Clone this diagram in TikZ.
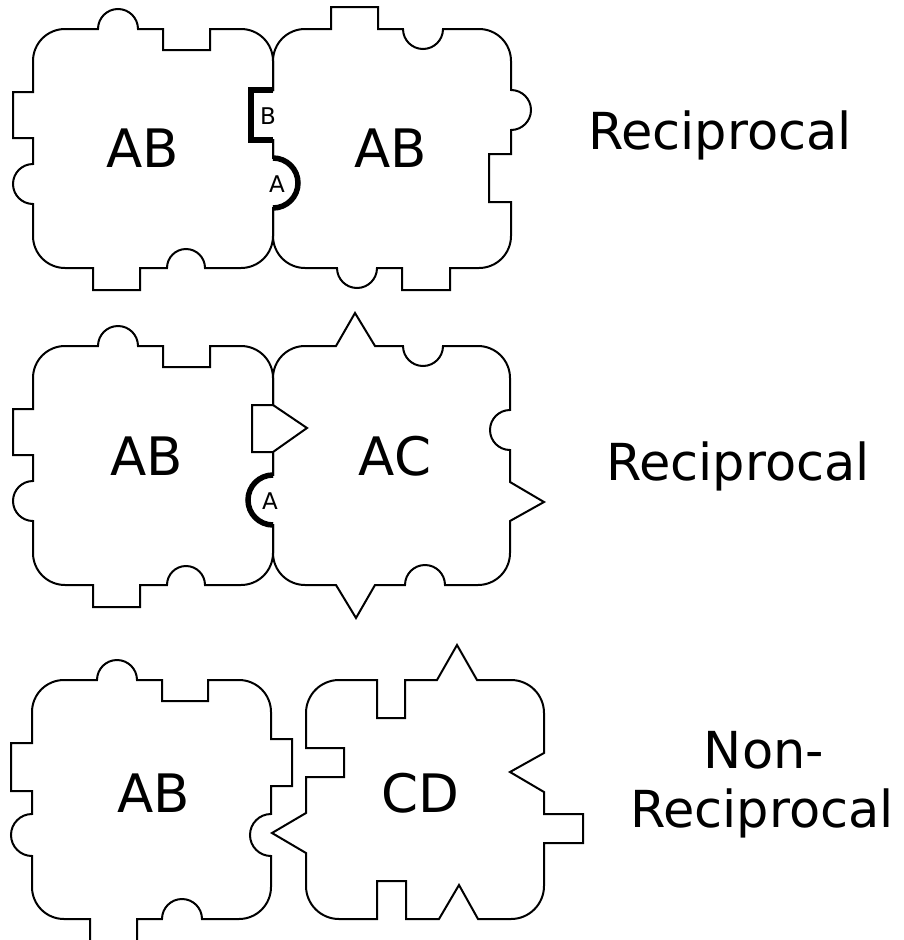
\documentclass[tikz,border=0pt]{standalone}
\usepackage{fontspec}
\setmainfont{DejaVu Sans}
\begin{document}
\begin{tikzpicture}[x=1pt,y=-1pt,
  tile/.style={draw=black,line width=2pt,line join=miter},
  boldline/.style={draw=black,line width=5.5pt},
  biglabel/.style={font=\fontsize{53}{60}\selectfont,inner sep=0pt,anchor=base},
  smalllabel/.style={font=\fontsize{23}{26}\selectfont,inner sep=0pt,anchor=base},
  sidelabel/.style={font=\fontsize{51}{58}\selectfont,inner sep=0pt,anchor=base}]
\clip (0,0) rectangle (903,940);
\fill[white] (0,0) rectangle (903,940);

% ---------- Row 1 ----------
% Tile 1 (AB)
\draw[tile] (33,61) arc[start angle=180,end angle=90,radius=32pt]
  -- (98,29) arc[start angle=180,end angle=0,radius=20pt]
  -- (163,29) -- (163,50) -- (210,50) -- (210,29)
  -- (241,29) arc[start angle=90,end angle=0,radius=32pt]
  -- (273,90) -- (251,90) -- (251,140) -- (273,140)
  -- (273,158) arc[start angle=90,end angle=-90,radius=25pt]
  -- (273,236) arc[start angle=0,end angle=-90,radius=32pt]
  -- (205,268) arc[start angle=0,end angle=180,radius=19pt]
  -- (140,268) -- (140,290) -- (93,290) -- (93,268)
  -- (65,268) arc[start angle=270,end angle=180,radius=32pt]
  -- (33,204) arc[start angle=270,end angle=90,radius=20pt]
  -- (33,138) -- (13,138) -- (13,92) -- (33,92) -- cycle;
% Tile 2 (AB)
\draw[tile] (273,61) arc[start angle=180,end angle=90,radius=32pt]
  -- (331,29) -- (331,7) -- (378,7) -- (378,29)
  -- (403,29) arc[start angle=180,end angle=360,radius=20pt]
  -- (479,29) arc[start angle=90,end angle=0,radius=32pt]
  -- (511,90) arc[start angle=90,end angle=-90,radius=20pt]
  -- (511,154) -- (489,154) -- (489,202) -- (511,202)
  -- (511,236) arc[start angle=0,end angle=-90,radius=32pt]
  -- (450,268) -- (450,290) -- (402,290) -- (402,268)
  -- (377,268) arc[start angle=0,end angle=-180,radius=20pt]
  -- (305,268) arc[start angle=270,end angle=180,radius=32pt]
  -- (273,208) arc[start angle=-90,end angle=90,radius=25pt]
  -- (273,140) -- (251,140) -- (251,90) -- (273,90) -- cycle;
\draw[boldline] (273,90) -- (251,90) -- (251,140) -- (273,140);
\draw[boldline] (273,158) arc[start angle=90,end angle=-90,radius=25pt];

% ---------- Row 2 ----------
% Tile 3 (AB)
\draw[tile] (33,378) arc[start angle=180,end angle=90,radius=32pt]
  -- (98,346) arc[start angle=180,end angle=0,radius=20pt]
  -- (163,346) -- (163,367) -- (210,367) -- (210,346)
  -- (241,346) arc[start angle=90,end angle=0,radius=32pt]
  -- (273,405) -- (252,405) -- (252,452) -- (273,452)
  -- (273,475) arc[start angle=90,end angle=270,radius=25pt]
  -- (273,553) arc[start angle=0,end angle=-90,radius=32pt]
  -- (205,585) arc[start angle=0,end angle=180,radius=19pt]
  -- (140,585) -- (140,607) -- (93,607) -- (93,585)
  -- (65,585) arc[start angle=270,end angle=180,radius=32pt]
  -- (33,521) arc[start angle=270,end angle=90,radius=20pt]
  -- (33,455) -- (13,455) -- (13,409) -- (33,409) -- cycle;
% Tile 4 (AC)
\draw[tile] (273,378) arc[start angle=180,end angle=90,radius=32pt]
  -- (336,346) -- (355,313) -- (375,346)
  -- (403,346) arc[start angle=180,end angle=360,radius=20pt]
  -- (478,346) arc[start angle=90,end angle=0,radius=32pt]
  -- (510,410) arc[start angle=90,end angle=270,radius=20pt]
  -- (510,482) -- (544,502) -- (510,521)
  -- (510,553) arc[start angle=0,end angle=-90,radius=32pt]
  -- (445,585) arc[start angle=0,end angle=180,radius=20pt]
  -- (375,585) -- (356,618) -- (336,585)
  -- (305,585) arc[start angle=270,end angle=180,radius=32pt]
  -- (273,525) arc[start angle=270,end angle=90,radius=25pt]
  -- (273,452) -- (307,428) -- (273,405) -- cycle;
\draw[boldline] (273,475) arc[start angle=90,end angle=270,radius=25pt];

% ---------- Row 3 ----------
% Tile 5 (AB)
\draw[tile] (32,712) arc[start angle=180,end angle=90,radius=32pt]
  -- (97,680) arc[start angle=180,end angle=0,radius=20pt]
  -- (162,680) -- (162,701) -- (208,701) -- (208,680)
  -- (239,680) arc[start angle=90,end angle=0,radius=32pt]
  -- (271,739) -- (292,739) -- (292,786) -- (271,786)
  -- (271,814) arc[start angle=90,end angle=270,radius=21pt]
  -- (271,887) arc[start angle=0,end angle=-90,radius=32pt]
  -- (202,919) arc[start angle=0,end angle=180,radius=20pt]
  -- (137,919) -- (137,960) -- (90,960) -- (90,919)
  -- (64,919) arc[start angle=270,end angle=180,radius=32pt]
  -- (32,856) arc[start angle=270,end angle=90,radius=21pt]
  -- (32,791) -- (11,791) -- (11,743) -- (32,743) -- cycle;
% Tile 6 (CD)
\draw[tile] (306,713) arc[start angle=180,end angle=90,radius=33pt]
  -- (377,680) -- (377,718) -- (405,718) -- (405,680)
  -- (437,680) -- (457,645) -- (477,680)
  -- (511,680) arc[start angle=90,end angle=0,radius=33pt]
  -- (544,753) -- (510,772) -- (544,792)
  -- (544,814) -- (583,814) -- (583,843) -- (544,843)
  -- (544,886) arc[start angle=0,end angle=-90,radius=33pt]
  -- (478,919) -- (459,885) -- (439,919)
  -- (406,919) -- (406,881) -- (377,881) -- (377,919)
  -- (339,919) arc[start angle=270,end angle=180,radius=33pt]
  -- (306,853) -- (272,833) -- (306,813)
  -- (306,777) -- (344,777) -- (344,748) -- (306,748) -- cycle;

% ---------- Labels ----------
\node[biglabel] (t1) at (143,167) {AB};
\node[biglabel] (t2) at (391,167) {AB};
\node[biglabel] (t3) at (147,475) {AB};
\node[biglabel] (t4) at (395,475) {AC};
\node[biglabel] (t5) at (154,812) {AB};
\node[biglabel] (t6) at (420,812) {CD};
\node[smalllabel] (lb1) at (268,124) {B};
\node[smalllabel] (la1) at (277,192) {A};
\node[smalllabel] (la2) at (270,509) {A};
\node[sidelabel] (s1) at (720,149) {Reciprocal};
\node[sidelabel] (s2) at (738,480) {Reciprocal};
\node[sidelabel] (s3a) at (764,768) {Non-};
\node[sidelabel] (s3b) at (762,827) {Reciprocal};
\end{tikzpicture}
\end{document}
